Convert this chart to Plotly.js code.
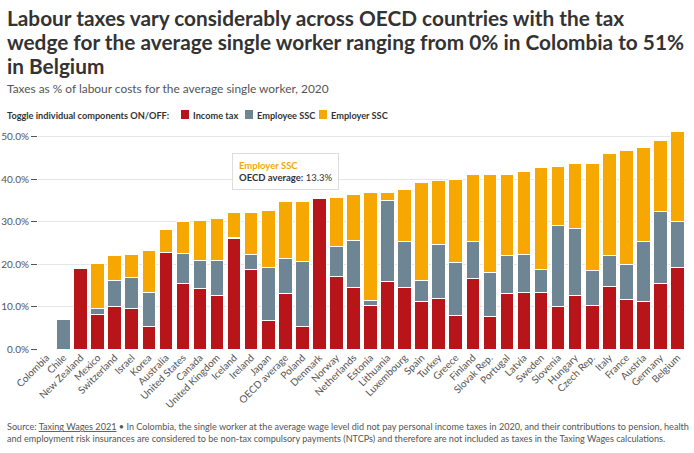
<!DOCTYPE html>
<html>
<head>
<meta charset="utf-8">
<script src="https://cdn.plot.ly/plotly-3.0.1.min.js"></script>
<style>
  html, body { margin: 0; padding: 0; background: #fff; }
  #chart { width: 694px; height: 453px; }
</style>
</head>
<body>
<div id="chart"></div>
<script>
const countries = ["Colombia","Chile","New Zealand","Mexico","Switzerland","Israel","Korea","Australia","United States","Canada","United Kingdom","Iceland","Ireland","Japan","OECD average","Poland","Denmark","Norway","Netherlands","Estonia","Lithuania","Luxembourg","Spain","Turkey","Greece","Finland","Slovak Rep.","Portugal","Latvia","Sweden","Slovenia","Hungary","Czech Rep.","Italy","France","Austria","Germany","Belgium"];
const incomeTax   = [0, 0, 19.0, 8.2, 10.0, 9.5, 5.3, 22.6, 15.4, 14.2, 12.5, 26.0, 18.7, 6.7, 13.0, 5.3, 35.3, 17.0, 14.4, 10.2, 15.9, 14.4, 11.1, 11.9, 7.8, 16.7, 7.6, 13.1, 13.4, 13.2, 9.9, 12.6, 10.2, 14.7, 11.6, 11.2, 15.5, 19.1];
const employeeSSC = [0, 7.0, 0, 1.3, 6.1, 7.3, 8.0, 0, 7.0, 6.7, 8.4, 0.3, 3.5, 12.4, 8.3, 15.3, 0, 7.1, 11.1, 1.3, 19.1, 10.9, 5.0, 12.8, 12.5, 8.5, 10.3, 8.8, 8.9, 5.5, 19.1, 15.7, 8.3, 7.2, 8.2, 14.1, 16.8, 10.9];
const employerSSC = [0, 0, 0, 10.6, 5.8, 5.5, 9.9, 5.6, 7.6, 9.4, 9.8, 5.8, 9.9, 13.5, 13.3, 14.2, 0, 11.6, 10.9, 25.3, 1.8, 12.2, 23.1, 14.9, 19.7, 15.8, 23.2, 19.2, 19.5, 23.9, 13.9, 15.3, 25.2, 24.0, 26.8, 22.0, 16.7, 21.2];
const yTicks = [0, 10, 20, 30, 40, 50];
const seriesNames = ["Income tax", "Employee SSC", "Employer SSC"];
const colors = ["#b7151a", "#6e8694", "#f7a800"];
const titleLines = [
  "Labour taxes vary considerably across OECD countries with the tax",
  "wedge for the average single worker ranging from 0% in Colombia to 51%",
  "in Belgium"
];
const subtitle = "Taxes as % of labour costs for the average single worker, 2020";
const toggleLabel = "Toggle individual components ON/OFF:";
const footerLines = [
  "Source: Taxing Wages 2021 • In Colombia, the single worker at the average wage level did not pay personal income taxes in 2020, and their contributions to pension, health",
  "and employment risk insurances are considered to be non-tax compulsory payments (NTCPs) and therefore are not included as taxes in the Taxing Wages calculations."
];

const FONT = "Lato, 'Source Sans Pro', sans-serif";
const W = 694, H = 453;
const M = { l: 38, r: 8, t: 128, b: 104 };
const PW = W - M.l - M.r, PH = H - M.t - M.b;
const xp = x => (x - M.l) / PW;
const yp = y => (H - M.b - y) / PH;

// fit a font size so text spans a target pixel width
const ctx = document.createElement("canvas").getContext("2d");
function textWidth(text, weight) {
  ctx.font = weight + " 100px Lato";
  return ctx.measureText(text).width;
}
function fitSize(text, weight, target) {
  return Math.round(100 * target / textWidth(text, weight) * 10) / 10;
}
const titleSize = Math.min(21, fitSize(titleLines[0] + titleLines[1], "bold", 619 + 682));
const subSize = Math.min(13, fitSize(subtitle, "normal", 324));
const toggleSize = Math.min(11, fitSize(toggleLabel, "bold", 162));
const footSize = Math.min(10.5, fitSize(footerLines[0], "normal", 680));

const seriesVals = [incomeTax, employeeSSC, employerSSC];
const traces = seriesVals.map((vals, i) => ({
  type: "bar",
  name: seriesNames[i],
  x: countries,
  y: vals,
  marker: { color: colors[i], line: { color: "#ffffff", width: 1 } },
  hoverinfo: "skip"
}));

const oecdIdx = countries.indexOf("OECD average");
const oecdTotal = incomeTax[oecdIdx] + employeeSSC[oecdIdx] + employerSSC[oecdIdx];

const annotations = [];
titleLines.forEach((t, i) => {
  annotations.push({ xref: "paper", yref: "paper", x: xp(5), y: yp(27 + i * 24), xanchor: "left", yanchor: "bottom",
    yshift: -Math.round(titleSize * 0.24), text: "<b>" + t + "</b>", showarrow: false,
    font: { family: FONT, size: titleSize, color: "#333" } });
});
annotations.push(
  { xref: "paper", yref: "paper", x: xp(5), y: yp(88), xanchor: "left", yanchor: "middle",
    text: subtitle, showarrow: false, font: { family: FONT, size: subSize, color: "#555" } },
  { xref: "paper", yref: "paper", x: xp(5), y: yp(115), xanchor: "left", yanchor: "middle",
    text: "<b>" + toggleLabel + "</b>", showarrow: false, font: { family: FONT, size: toggleSize, color: "#333" } },
  { xref: "paper", yref: "paper", x: xp(5), y: yp(432), xanchor: "left", yanchor: "middle", align: "left",
    text: footerLines[0].replace("Taxing Wages 2021", "<span style='text-decoration:underline'>Taxing Wages 2021</span>") + "<br>" + footerLines[1],
    showarrow: false, font: { family: FONT, size: footSize, color: "#555" } },
  { xref: "x", yref: "y", x: countries[oecdIdx], y: oecdTotal, xanchor: "center", yanchor: "bottom",
    yshift: 12, align: "left",
    text: "<b><span style='color:#f7a800'>Employer SSC</span></b><br><b>OECD average:</b> " + employerSSC[oecdIdx].toFixed(1) + "%",
    showarrow: false, bgcolor: "#ffffff", bordercolor: "#dddddd", borderwidth: 1, borderpad: 6,
    font: { family: FONT, size: 9.5, color: "#333" } }
);

const legendItems = [181, 245, 319];
const legendShapes = [];
legendItems.forEach((x, i) => {
  legendShapes.push({
    type: "rect", xref: "paper", yref: "paper",
    x0: xp(x), x1: xp(x + 8), y0: yp(119), y1: yp(110),
    line: { width: 0 }, fillcolor: colors[i]
  });
  annotations.push({
    xref: "paper", yref: "paper", x: xp(x + 10), y: yp(115), xanchor: "left", yanchor: "middle",
    text: "<b>" + seriesNames[i] + "</b>", showarrow: false,
    font: { family: FONT, size: toggleSize, color: "#333" }
  });
});

const layout = {
  width: W, height: H,
  margin: { l: M.l, r: M.r, t: M.t, b: M.b, pad: 0 },
  paper_bgcolor: "#fff", plot_bgcolor: "#fff",
  barmode: "stack", bargap: 0.2,
  showlegend: false,
  font: { family: FONT, color: "#555" },
  xaxis: {
    type: "category", range: [-0.5, countries.length - 0.5],
    tickangle: -45, ticks: "", showgrid: false, showline: false, zeroline: false,
    tickfont: { family: FONT, size: 10, color: "#555" }, automargin: false
  },
  yaxis: {
    range: [0, 52], tickvals: yTicks, ticktext: yTicks.map(v => v.toFixed(1) + "%"),
    ticks: "outside", ticklen: 6, tickcolor: "#555", tickwidth: 1,
    showgrid: true, gridcolor: "#e6e6e6", gridwidth: 1, zeroline: false, showline: false,
    tickfont: { family: FONT, size: 10, color: "#555" }, automargin: false
  },
  shapes: legendShapes,
  annotations: annotations
};

Plotly.newPlot("chart", traces, layout, { displayModeBar: false, staticPlot: true });
</script>
</body>
</html>
